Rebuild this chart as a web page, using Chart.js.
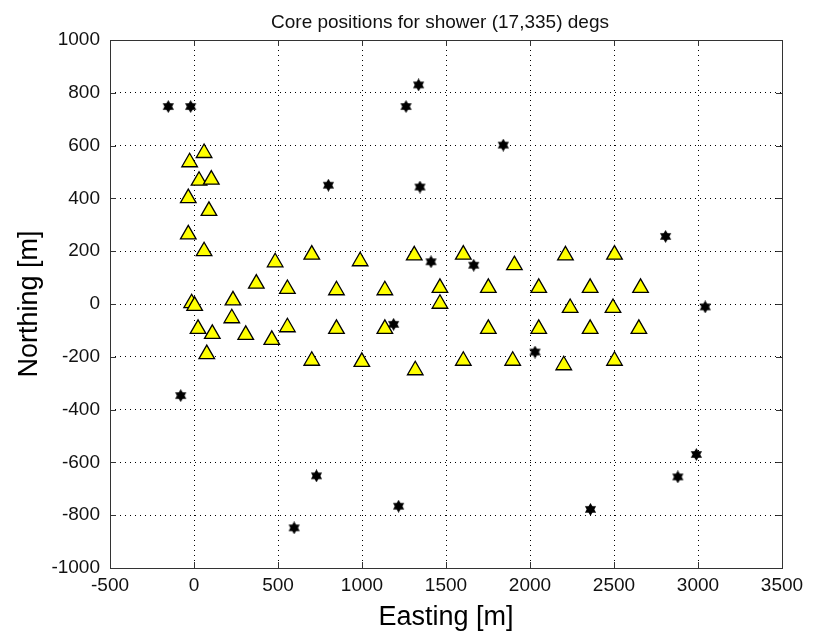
<!DOCTYPE html>
<html>
<head>
<meta charset="utf-8">
<script src="https://cdn.jsdelivr.net/npm/chart.js@4.4.1/dist/chart.umd.min.js"></script>
<style>
html, body { margin: 0; background: #fff; }
#wrap { width: 815px; height: 631px; }
</style>
</head>
<body>
<div id="wrap"><canvas id="cores"></canvas></div>
<script>
// detector positions (triangles)
const tri_east  = [60, -26, 30, 103, -34, 89, -34, 60,
	483, 701, 989, 1311, 1603, 1907, 2211, 2503,
	371, 556, 848, 1136, 1464, 1752, 2052, 2358, 2658,
	-14, 4, 232, 1464, 2239, 2494,
	225, 24, 109, 308, 463, 556, 848, 1136, 1752, 2052, 2358, 2648,
	76, 701, 999, 1317, 1603, 1897, 2201, 2503];
const tri_north = [572, 537, 467, 471, 401, 353, 264, 200,
	158, 187, 162, 184, 187, 147, 184, 187,
	77, 57, 52, 52, 61, 61, 61, 61, 61,
	3, -7, 14, 1, -15, -15,
	-54, -94, -113, -117, -136, -88, -94, -94, -94, -94, -94, -94,
	-190, -215, -219, -251, -215, -215, -232, -215];

// reconstructed cores (stars)
const star_east  = [-153, -20, 1337, 1262, 800, 1345, 1411, 1841, 2807, 1665,
	1188, -79, 729, 1218, 596, 2030, 3043, 2990, 2880, 2360];
const star_north = [748, 748, 830, 748, 450, 443, 160, 602, 256, 147,
	-77, -347, -651, -766, -848, -182, -11, -570, -655, -778];

const x_ticks = [-500, 0, 500, 1000, 1500, 2000, 2500, 3000, 3500];
const y_ticks = [-1000, -800, -600, -400, -200, 0, 200, 400, 600, 800, 1000];

const title_text = 'Core positions for shower (17,335) degs';

function hexagram(size) {
	const c = document.createElement('canvas');
	c.width = size; c.height = size;
	const g = c.getContext('2d');
	const r = size / 2, cx = size / 2, cy = size / 2;
	g.fillStyle = '#000';
	for (let k = 0; k < 2; k++) {
		g.beginPath();
		for (let i = 0; i < 3; i++) {
			const a = (k * Math.PI / 3) + i * 2 * Math.PI / 3 - Math.PI / 2;
			const px = cx + r * Math.cos(a), py = cy + r * Math.sin(a);
			if (i == 0) g.moveTo(px, py); else g.lineTo(px, py);
		}
		g.closePath();
		g.fill();
	}
	return c;
}

// matlab style box, inward ticks and title
const boxPlugin = {
	id: 'box',
	afterDraw(chart) {
		const ctx = chart.ctx;
		const a = chart.chartArea;
		const xs = chart.scales.x, ys = chart.scales.y;
		ctx.save();
		ctx.strokeStyle = '#333';
		ctx.lineWidth = 1;
		ctx.strokeRect(a.left + 0.5, a.top + 0.5, a.right - a.left, a.bottom - a.top);
		ctx.beginPath();
		x_ticks.forEach(v => {
			const px = Math.round(xs.getPixelForValue(v)) + 0.5;
			ctx.moveTo(px, a.bottom); ctx.lineTo(px, a.bottom - 6);
			ctx.moveTo(px, a.top); ctx.lineTo(px, a.top + 6);
		});
		y_ticks.forEach(v => {
			const py = Math.round(ys.getPixelForValue(v)) + 0.5;
			ctx.moveTo(a.left, py); ctx.lineTo(a.left + 6, py);
			ctx.moveTo(a.right, py); ctx.lineTo(a.right - 6, py);
		});
		ctx.stroke();
		ctx.fillStyle = '#111';
		ctx.font = '19px "Liberation Sans", Arial, sans-serif';
		ctx.textAlign = 'center';
		ctx.textBaseline = 'alphabetic';
		ctx.fillText(title_text, 440, 28);
		ctx.restore();
	}
};

const tickFont = { family: '"Liberation Sans", Arial, sans-serif', size: 19 };
const labelFont = { family: '"Liberation Sans", Arial, sans-serif', size: 27, lineHeight: 1 };

new Chart(document.getElementById('cores'), {
	type: 'scatter',
	data: {
		datasets: [{
			label: 'Detectors',
			data: tri_east.map((e, i) => ({ x: e, y: tri_north[i] })),
			pointStyle: 'triangle',
			pointRadius: 9,
			pointHoverRadius: 9,
			backgroundColor: '#ffff00',
			borderColor: '#000',
			borderWidth: 1.3
		}, {
			label: 'Cores',
			data: star_east.map((e, i) => ({ x: e, y: star_north[i] })),
			pointStyle: hexagram(13),
			backgroundColor: '#000',
			borderColor: '#000'
		}]
	},
	plugins: [boxPlugin],
	options: {
		responsive: true,
		maintainAspectRatio: false,
		animation: false,
		layout: { padding: { top: 40, right: 33, left: 0, bottom: 0 } },
		plugins: {
			legend: { display: false },
			tooltip: { enabled: false }
		},
		scales: {
			x: {
				type: 'linear',
				min: -500, max: 3500,
				afterBuildTicks: s => { s.ticks = x_ticks.map(v => ({ value: v })); },
				afterFit: s => { s.height = 63; },
				ticks: { color: '#111', font: tickFont, padding: 6, callback: v => String(v) },
				grid: { color: '#000', lineWidth: 1, drawTicks: false },
				border: { display: false, dash: [1, 4] },
				title: { display: true, text: 'Easting [m]', color: '#000', font: labelFont, padding: { top: 0, bottom: 0 } }
			},
			y: {
				type: 'linear',
				min: -1000, max: 1000,
				afterBuildTicks: s => { s.ticks = y_ticks.map(v => ({ value: v })); },
				afterFit: s => { s.width = 110; },
				ticks: { color: '#111', font: tickFont, padding: 10, callback: v => String(v) },
				grid: { color: '#000', lineWidth: 1, drawTicks: false },
				border: { display: false, dash: [1, 4] },
				title: { display: true, text: 'Northing [m]', color: '#000', font: labelFont, padding: { top: 16, bottom: 0 } }
			}
		}
	}
});
</script>
</body>
</html>
